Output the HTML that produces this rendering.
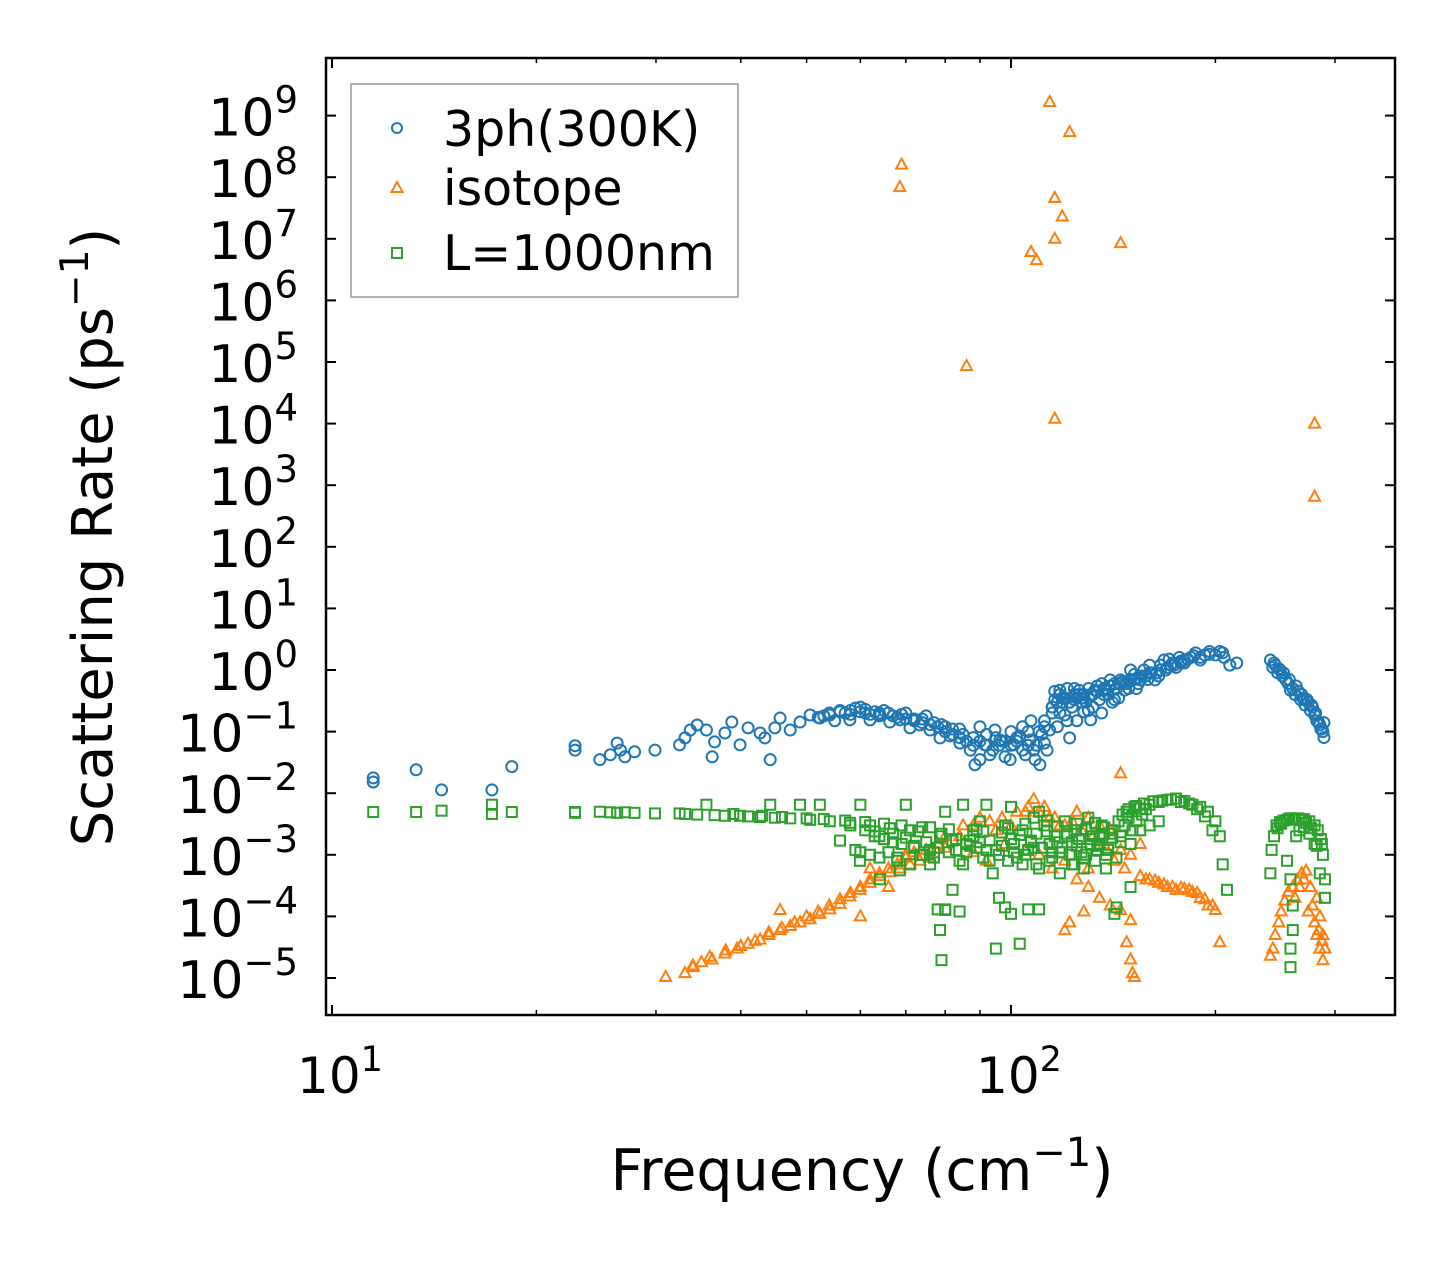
<!DOCTYPE html>
<html><head><meta charset="utf-8"><style>
html,body{margin:0;padding:0;background:#fff;}
svg text{font-family:"DejaVu Sans","Liberation Sans",sans-serif;fill:#000;}
</style></head><body>
<svg id="chart" width="1455" height="1265" viewBox="0 0 1455 1265" xmlns="http://www.w3.org/2000/svg">
<rect width="1455" height="1265" fill="#fff"/>
<g id="marks"></g>
<g id="axes"></g>
<rect x="326" y="58" width="1069" height="957" fill="none" stroke="#000" stroke-width="2.5"/>
<text x="862" y="1190" font-size="57" text-anchor="middle">Frequency (cm<tspan dy="-24" font-size="40">−1</tspan><tspan dy="24">)</tspan></text>
<text transform="translate(112,537) rotate(-90)" font-size="56" text-anchor="middle">Scattering Rate (ps<tspan dy="-24" font-size="39">−1</tspan><tspan dy="24">)</tspan></text>
<g>
<rect x="351" y="84" width="387" height="213" fill="#fff" stroke="#999" stroke-width="1.5"/>
<circle cx="397" cy="128" r="5" fill="none" stroke="#1f77b4" stroke-width="2"/>
<text x="443" y="146" font-size="49">3ph(300K)</text>
<path d="M397,182 L402.5,192 L391.5,192 Z" fill="none" stroke="#ff7f0e" stroke-width="2"/>
<text x="443" y="205" font-size="49">isotope</text>
<rect x="392" y="248" width="10" height="10" fill="none" stroke="#2ca02c" stroke-width="2"/>
<text x="443" y="270" font-size="49">L=1000nm</text>
</g>
</svg>
<script>
const blueFreq=[11.5,11.5,13.3,14.5,17.2,18.4,22.8,22.8,24.8,25.7,26.3,26.6,27.0,27.9,29.9,32.5,33.1,33.7,34.5,35.6,36.3,36.6,37.9,38.8,39.9,41.0,42.7,43.4,44.2,44.9,45.7,47.3,48.9,50.6,52.3,54.1,56.0,57.9,59.9,62.0,64.1,66.3,68.6,71.0,73.4,76.0,78.6,81.3,84.1,87.1,88.5,90.0,91.5,93.1,94.7,96.3,98,99.7,101,103,105,106.7,108.5,110.3,112,114,116,118,120,122,124,126,128,131,133,135,138,140,142,145,147,150,152,155,157,160,163,166,168,171,174,177,180,184,187,190,193,196,200,203,206,210,241,245,249,254,258,262,267,271,276,280,285,288,
100,104,107,111,113,115,117,119,121,123,125,127,129,132,136,139,143,148,153,158,90,85,80,75,70,65,60,62,58,55,67,72,77,82,95,243,247,251,256,260,265,269,274,278,282,286,289,289,215,205,175,165,
97,102,106,109,112,115,118,121,124,127,130,134,137,141,144,149,154,159,164,169,173,178,182,186,92,88,84,79,74,69,64,61,57,53,116,118,120,122,124,126,128,130,132,134,136,138,140,142,146,150,154,160,170,180,190,196,244,248,252,257,263,268,273,277,281,284,287];
const blueRate=[.0177,.0152,.024,.0113,.0113,.027,.059,.050,.035,.042,.065,.050,.039,.047,.050,.061,.079,.106,.128,.106,.039,.068,.095,.143,.061,.115,.095,.079,.035,.115,.166,.106,.143,.186,.166,.186,.21,.155,.21,.155,.186,.143,.155,.115,.128,.106,.079,.085,.065,.050,.029,.035,.061,.042,.106,.073,.039,.035,.061,.085,.042,.073,.035,.029,.065,.106,.33,.47,.186,.079,.33,.47,.21,.155,.47,.33,.47,.69,.33,.69,.47,1.0,.85,.69,1.0,1.2,.69,1.2,1.45,1.5,1.2,1.6,1.45,1.6,1.9,1.45,1.75,2.0,1.75,2.0,1.6,1.2,1.45,1.2,1.0,.69,.47,.40,.33,.27,.22,.186,.128,.1,
.1,.12,.15,.09,.05,.2,.12,.3,.5,.25,.15,.35,.3,.25,.2,.4,.5,.6,.5,.8,.12,.09,.12,.18,.2,.22,.25,.19,.22,.15,.18,.16,.14,.11,.08,1.1,.9,.8,.6,.5,.45,.35,.3,.25,.15,.11,.14,.08,1.3,1.9,1.1,.8,
.07,.08,.1,.06,.12,.25,.2,.15,.4,.3,.22,.45,.4,.3,.35,.5,.6,.7,.9,1.0,1.3,1.4,1.5,1.7,.09,.08,.11,.13,.16,.19,.2,.23,.2,.18,.45,.4,.35,.3,.5,.4,.35,.5,.4,.55,.6,.5,.55,.6,.65,.7,.75,.9,1.1,1.3,1.6,1.8,1.3,1.05,.9,.7,.55,.4,.33,.27,.2,.14,.11];
const blueFreqExtra=[52,54,56,58,59,61,63,64,66,68,70,72,74,76,78,80,82,84,86,88,90,92,94,96,98,100,102,104,106,108,110,112,115,117,119,122,125,128,131,134,137,140,144,148,152,156,161,166,172,178];
const blueRateExtra=[.17,.2,.22,.19,.24,.2,.21,.18,.2,.17,.16,.15,.14,.13,.12,.1,.09,.08,.07,.06,.07,.06,.05,.06,.07,.06,.07,.05,.06,.05,.1,.15,.25,.3,.35,.3,.35,.4,.4,.45,.5,.55,.6,.65,.7,.8,.9,1.0,1.2,1.3];

const isoFreq=[114,122,69,68.6,116,119,116,145,107,109,86,116,280,280,145,
31,33.1,34,35,36.3,37.9,39.5,41,42.7,44,45.7,47.3,48.9,50.6,52.3,54.1,56,57.9,59.9,62,64.1,66.3,68.6,71,73.4,76,45.7,60,62,66,70,75,78,80,85,90,95,100,105,108,112,116,120,125,130,135,140,145,150,155,105,110,115,120,125,130,135,140,145,150,155,160,165,170,175,180,185,190,195,200,203,120,122,150,151,152,148,128,98,92,88,130,
241,243,245,248,250,253,256,260,264,268,272,276,278,280,282,285,288,285,288,290,282,
80,84,88,93,97,102,106,110,114,118,123,127,132,137,142,147,158,163,168,173,178,183,188,193,198,262,266,270,274,284,287];
const isoRate=[1.66e9,5.4e8,1.6e8,6.9e7,4.6e7,2.3e7,1.0e7,8.5e6,6.1e6,4.5e6,8.6e4,1.2e4,1.0e4,6.5e2,2.1e-2,
1.04e-5,1.2e-5,1.5e-5,1.8e-5,2.0e-5,2.5e-5,3e-5,3.6e-5,4.2e-5,5e-5,6e-5,7e-5,8e-5,9e-5,1.1e-4,1.3e-4,1.6e-4,2.1e-4,2.7e-4,3.5e-4,4.5e-4,5.2e-4,6e-4,7e-4,8e-4,9e-4,1.27e-4,1e-4,6e-4,3e-4,1e-3,1.2e-3,1.5e-3,2e-3,3e-3,4e-3,2.5e-3,3e-3,5e-3,8e-3,6e-3,4e-3,3e-3,5e-3,4e-3,3e-3,2.5e-3,1.2e-3,1e-3,1.5e-3,1.2e-3,1e-3,6e-4,8e-4,4e-4,3e-4,2e-4,1.5e-4,1.27e-4,8.7e-5,4.5e-4,4e-4,3.5e-4,3e-4,2.7e-4,2.8e-4,2.5e-4,2e-4,1.5e-4,1.27e-4,3.8e-5,6e-5,8e-5,2e-5,1.2e-5,1.04e-5,3.8e-5,1.2e-4,1.5e-3,8e-4,1.1e-3,6e-4,
2.3e-5,3e-5,5e-5,8e-5,1.2e-4,1.8e-4,2.5e-4,3e-4,3.9e-4,5e-4,5.5e-4,3e-4,1.5e-4,8e-5,5e-5,3e-5,1.95e-5,1e-4,5e-5,3e-5,2e-4,
1.3e-3,2e-3,3e-3,3.5e-3,4e-3,5e-3,6e-3,5e-3,4e-3,3e-3,3.5e-3,2.5e-3,2e-3,1.5e-3,8e-4,6e-4,4e-4,3.8e-4,3.3e-4,3e-4,2.9e-4,2.7e-4,2.4e-4,1.9e-4,1.5e-4,2e-4,3e-4,4e-4,1.2e-4,6e-5,4e-5];
const isoFreqExtra=[34,36,38,40,42,44,46,48,50,52,54,56,58,60,62,64,66,68,70,72];
const isoRateExtra=[1.6e-5,2.2e-5,2.8e-5,3.3e-5,4e-5,5.5e-5,6.5e-5,8e-5,1e-4,1.2e-4,1.5e-4,1.9e-4,2.4e-4,3e-4,4e-4,5e-4,6e-4,7e-4,9e-4,1.1e-3];

const grnFreq=[11.5,13.3,14.5,17.2,17.2,18.4,22.8,22.8,24.8,25.7,26.3,27,27.9,29.9,32.5,33.1,34.5,35.6,36.6,37.9,39.9,41,42.7,44.2,44.9,47.3,48.9,50.6,52.3,54.1,56,57.9,59.9,62,64.1,66.3,68.6,71,73.4,76,78.6,78.6,79,80,82,84,86,88,90,92,94,96,98,100,102,103,104,106,108,110,112,114,116,118,120,122,124,126,128,130,132,134,136,138,140,143,145,148,150,152,155,160,165,170,175,180,185,190,195,200,203,205,208,155,160,165,150,95,88,85,92,100,110,70,60,80,100,110,
241,242,244,247,250,255,260,265,270,275,280,283,286,288,290,290,255,258,260,260,258,258,263,266,270,275,280,285,
39,43,46,50,53,57,61,63,65,67,69,72,74,77,81,83,87,89,91,93,97,99,101,105,107,109,111,113,115,117,119,121,123,125,127,129,131,133,135,137,139,141,144,146,149,153,157,162,167,172,178,183,188,193,198,246,249,252,257,262,268,272,277,282,287,
60,64,68,72,76,82,86,90,96,104,108,114,118,124,128,134,138,142,78,80,84,98,106,116];
const grnRate=[4.95e-3,4.95e-3,5.2e-3,6.5e-3,4.6e-3,4.95e-3,4.8e-3,4.95e-3,5e-3,4.9e-3,4.8e-3,4.9e-3,4.8e-3,4.7e-3,4.7e-3,4.6e-3,4.5e-3,6.5e-3,4.4e-3,4.3e-3,4.3e-3,4.2e-3,4.1e-3,6.5e-3,4e-3,3.9e-3,6.5e-3,3.7e-3,6.5e-3,3.5e-3,1.7e-3,3.3e-3,8e-4,3e-3,4e-4,2.7e-3,5.6e-4,2.5e-3,1e-3,1.2e-3,2e-3,6e-5,1.95e-5,1.27e-4,2.7e-4,8e-4,1.5e-3,2.5e-3,3.5e-3,1.2e-3,5e-4,2e-4,3e-3,1.8e-3,9e-4,3.6e-5,2.5e-3,1.2e-3,4e-3,6e-4,3e-3,1.5e-3,2e-3,5e-4,3.5e-3,1e-3,2.5e-3,1.8e-3,6e-4,4e-3,2e-3,1.4e-3,3e-3,1e-3,2.2e-3,1.4e-4,2e-3,5e-3,3e-4,6e-3,5.6e-3,6.5e-3,7.2e-3,7.8e-3,8.2e-3,7.5e-3,6.5e-3,6e-3,5e-3,3.5e-3,2e-3,7e-4,2.7e-4,2.5e-3,3e-3,3.5e-3,1.5e-3,3e-5,2e-3,6.5e-3,6.5e-3,6e-3,5e-3,6.5e-3,6.5e-3,5e-3,1.1e-4,1.3e-4,
5e-4,1.2e-3,2e-3,2.7e-3,3.2e-3,3.7e-3,3.9e-3,3.9e-3,3.8e-3,3.5e-3,3e-3,2.5e-3,1.8e-3,1e-3,4e-4,2e-4,8e-4,4e-4,1.5e-4,6e-5,3e-5,1.5e-5,2e-3,2.5e-3,2.8e-3,2.2e-3,1.5e-3,5e-4,
4.6e-3,4.3e-3,4.1e-3,3.9e-3,3.8e-3,3.6e-3,3.4e-3,2.4e-3,3.2e-3,1.6e-3,3e-3,1.3e-3,2.8e-3,1.1e-3,2.6e-3,1.2e-3,1.7e-3,1.3e-3,2.4e-3,8e-4,1.4e-3,2.7e-3,1.1e-3,3.2e-3,1.6e-3,2.2e-3,1.3e-3,3.6e-3,1.1e-3,2.9e-3,1.3e-3,2.2e-3,1.6e-3,3.2e-3,1.1e-3,2.6e-3,1.5e-3,3.3e-3,1.9e-3,2.8e-3,1.3e-3,2.5e-3,3.5e-3,4.5e-3,5.5e-3,6.2e-3,6.8e-3,7.4e-3,7.6e-3,7.9e-3,7.2e-3,6.8e-3,5.5e-3,4.2e-3,2.5e-3,3e-3,3.4e-3,3.6e-3,3.9e-3,3.8e-3,3.7e-3,3.3e-3,2.7e-3,1.4e-3,
1.5e-3,1.1e-3,2e-3,9e-4,1.3e-3,7e-4,1.7e-3,1.1e-3,1.6e-3,1e-3,7e-4,1.3e-3,8e-4,1.1e-3,7e-4,9e-4,1.2e-3,6e-4,1.1e-4,1.3e-4,1.3e-4,1.2e-4,1.4e-4,1.3e-4];
const grnFreqExtra=[58,59,61,62,63,64,65,66,67,68,69,70,71,72,73,74,75,76,77,78,79,81,83,85,87,89,91,93,95,97,99,101,103,105,107,109,111,113,115,117,119,121,123,125,127,129,131,133,135,137,139,141,143,145,147,149,151,153,156,158];
const grnRateExtra=[3e-3,1.2e-3,2.5e-3,1e-3,2e-3,9e-4,1.8e-3,1.1e-3,2.2e-3,8e-4,1.5e-3,1.9e-3,7e-4,1.4e-3,2.4e-3,1e-3,1.6e-3,2.8e-3,9e-4,1.3e-3,2.2e-3,1.1e-3,1.8e-3,7e-4,1.4e-3,2.6e-3,9e-4,1.7e-3,1.2e-3,2.3e-3,8e-4,1.5e-3,2.1e-3,1e-3,1.7e-3,7e-4,1.3e-3,2.4e-3,9e-4,1.6e-3,1.1e-3,2e-3,7e-4,1.4e-3,2.5e-3,1e-3,1.8e-3,8e-4,1.5e-3,2.2e-3,1.2e-3,1.9e-3,9e-4,1.6e-3,3e-3,4e-3,2.5e-3,3.5e-3,4.5e-3,5.5e-3];

const xMajor=[10,100];
const xMajorExp=["1","2"];
const xMinor=[20,30,40,50,60,70,80,90,200,300];
const yExps=[-5,-4,-3,-2,-1,0,1,2,3,4,5,6,7,8,9];

const X0=332, XDEC=679, Y0=670, YDEC=61.6;
function sx(v){return X0+(Math.log10(v)-1)*XDEC;}
function sy(v){return Y0-Math.log10(v)*YDEC;}
const NS="http://www.w3.org/2000/svg";
const marks=document.getElementById('marks');
const axes=document.getElementById('axes');
function mk(tag,attrs,parent){const e=document.createElementNS(NS,tag);for(const k in attrs)e.setAttribute(k,attrs[k]);parent.appendChild(e);return e;}
function pairs(fa,ra){const n=Math.min(fa.length,ra.length);const out=[];for(let i=0;i<n;i++){if(fa[i]>0&&ra[i]>0)out.push([fa[i],ra[i]]);}return out;}

pairs(blueFreq,blueRate).concat(pairs(blueFreqExtra,blueRateExtra)).forEach(([f,v])=>{
  const c=mk('circle',{cx:sx(f),cy:sy(v),r:5.5,fill:'none',stroke:'#1f77b4','stroke-width':2},marks);
  
  
});
pairs(isoFreq,isoRate).concat(pairs(isoFreqExtra,isoRateExtra)).forEach(([f,v])=>{
  const x=sx(f),y=sy(v);
  const p=mk('path',{d:`M${x},${y-6} L${x+5.5},${y+4} L${x-5.5},${y+4} Z`,fill:'none',stroke:'#ff7f0e','stroke-width':2},marks);
  
  
});
pairs(grnFreq,grnRate).concat(pairs(grnFreqExtra,grnRateExtra)).forEach(([f,v])=>{
  const x=sx(f),y=sy(v);
  const r=mk('rect',{x:x-5,y:y-5,width:10,height:10,fill:'none',stroke:'#2ca02c','stroke-width':2},marks);
  
  
});

const T=58,B=1015,L=326,R=1395;
xMajor.forEach((v,i)=>{
  const x=sx(v);
  mk('line',{x1:x,x2:x,y1:B,y2:B-10,stroke:'#000','stroke-width':2},axes);
  mk('line',{x1:x,x2:x,y1:T,y2:T+10,stroke:'#000','stroke-width':2},axes);
  const t=mk('text',{x:x+8,y:1093,'font-size':50,'text-anchor':'middle'},axes);
  
  
  t.innerHTML='10<tspan dy="-22" font-size="35">'+xMajorExp[i]+'</tspan>';
});
xMinor.forEach(v=>{
  const x=sx(v);
  mk('line',{x1:x,x2:x,y1:B,y2:B-5,stroke:'#000','stroke-width':1.5},axes);
  mk('line',{x1:x,x2:x,y1:T,y2:T+5,stroke:'#000','stroke-width':1.5},axes);
});
yExps.forEach(e=>{
  const y=sy(Math.pow(10,e));
  mk('line',{x1:L,x2:L+10,y1:y,y2:y,stroke:'#000','stroke-width':2},axes);
  mk('line',{x1:R,x2:R-10,y1:y,y2:y,stroke:'#000','stroke-width':2},axes);
  const t=mk('text',{x:298,y:y+20,'font-size':52,'text-anchor':'end'},axes);
  
  
  t.innerHTML='10<tspan dy="-23" font-size="37">'+(e<0?'−'+(-e):e)+'</tspan>';
});
</script>
</body></html>
